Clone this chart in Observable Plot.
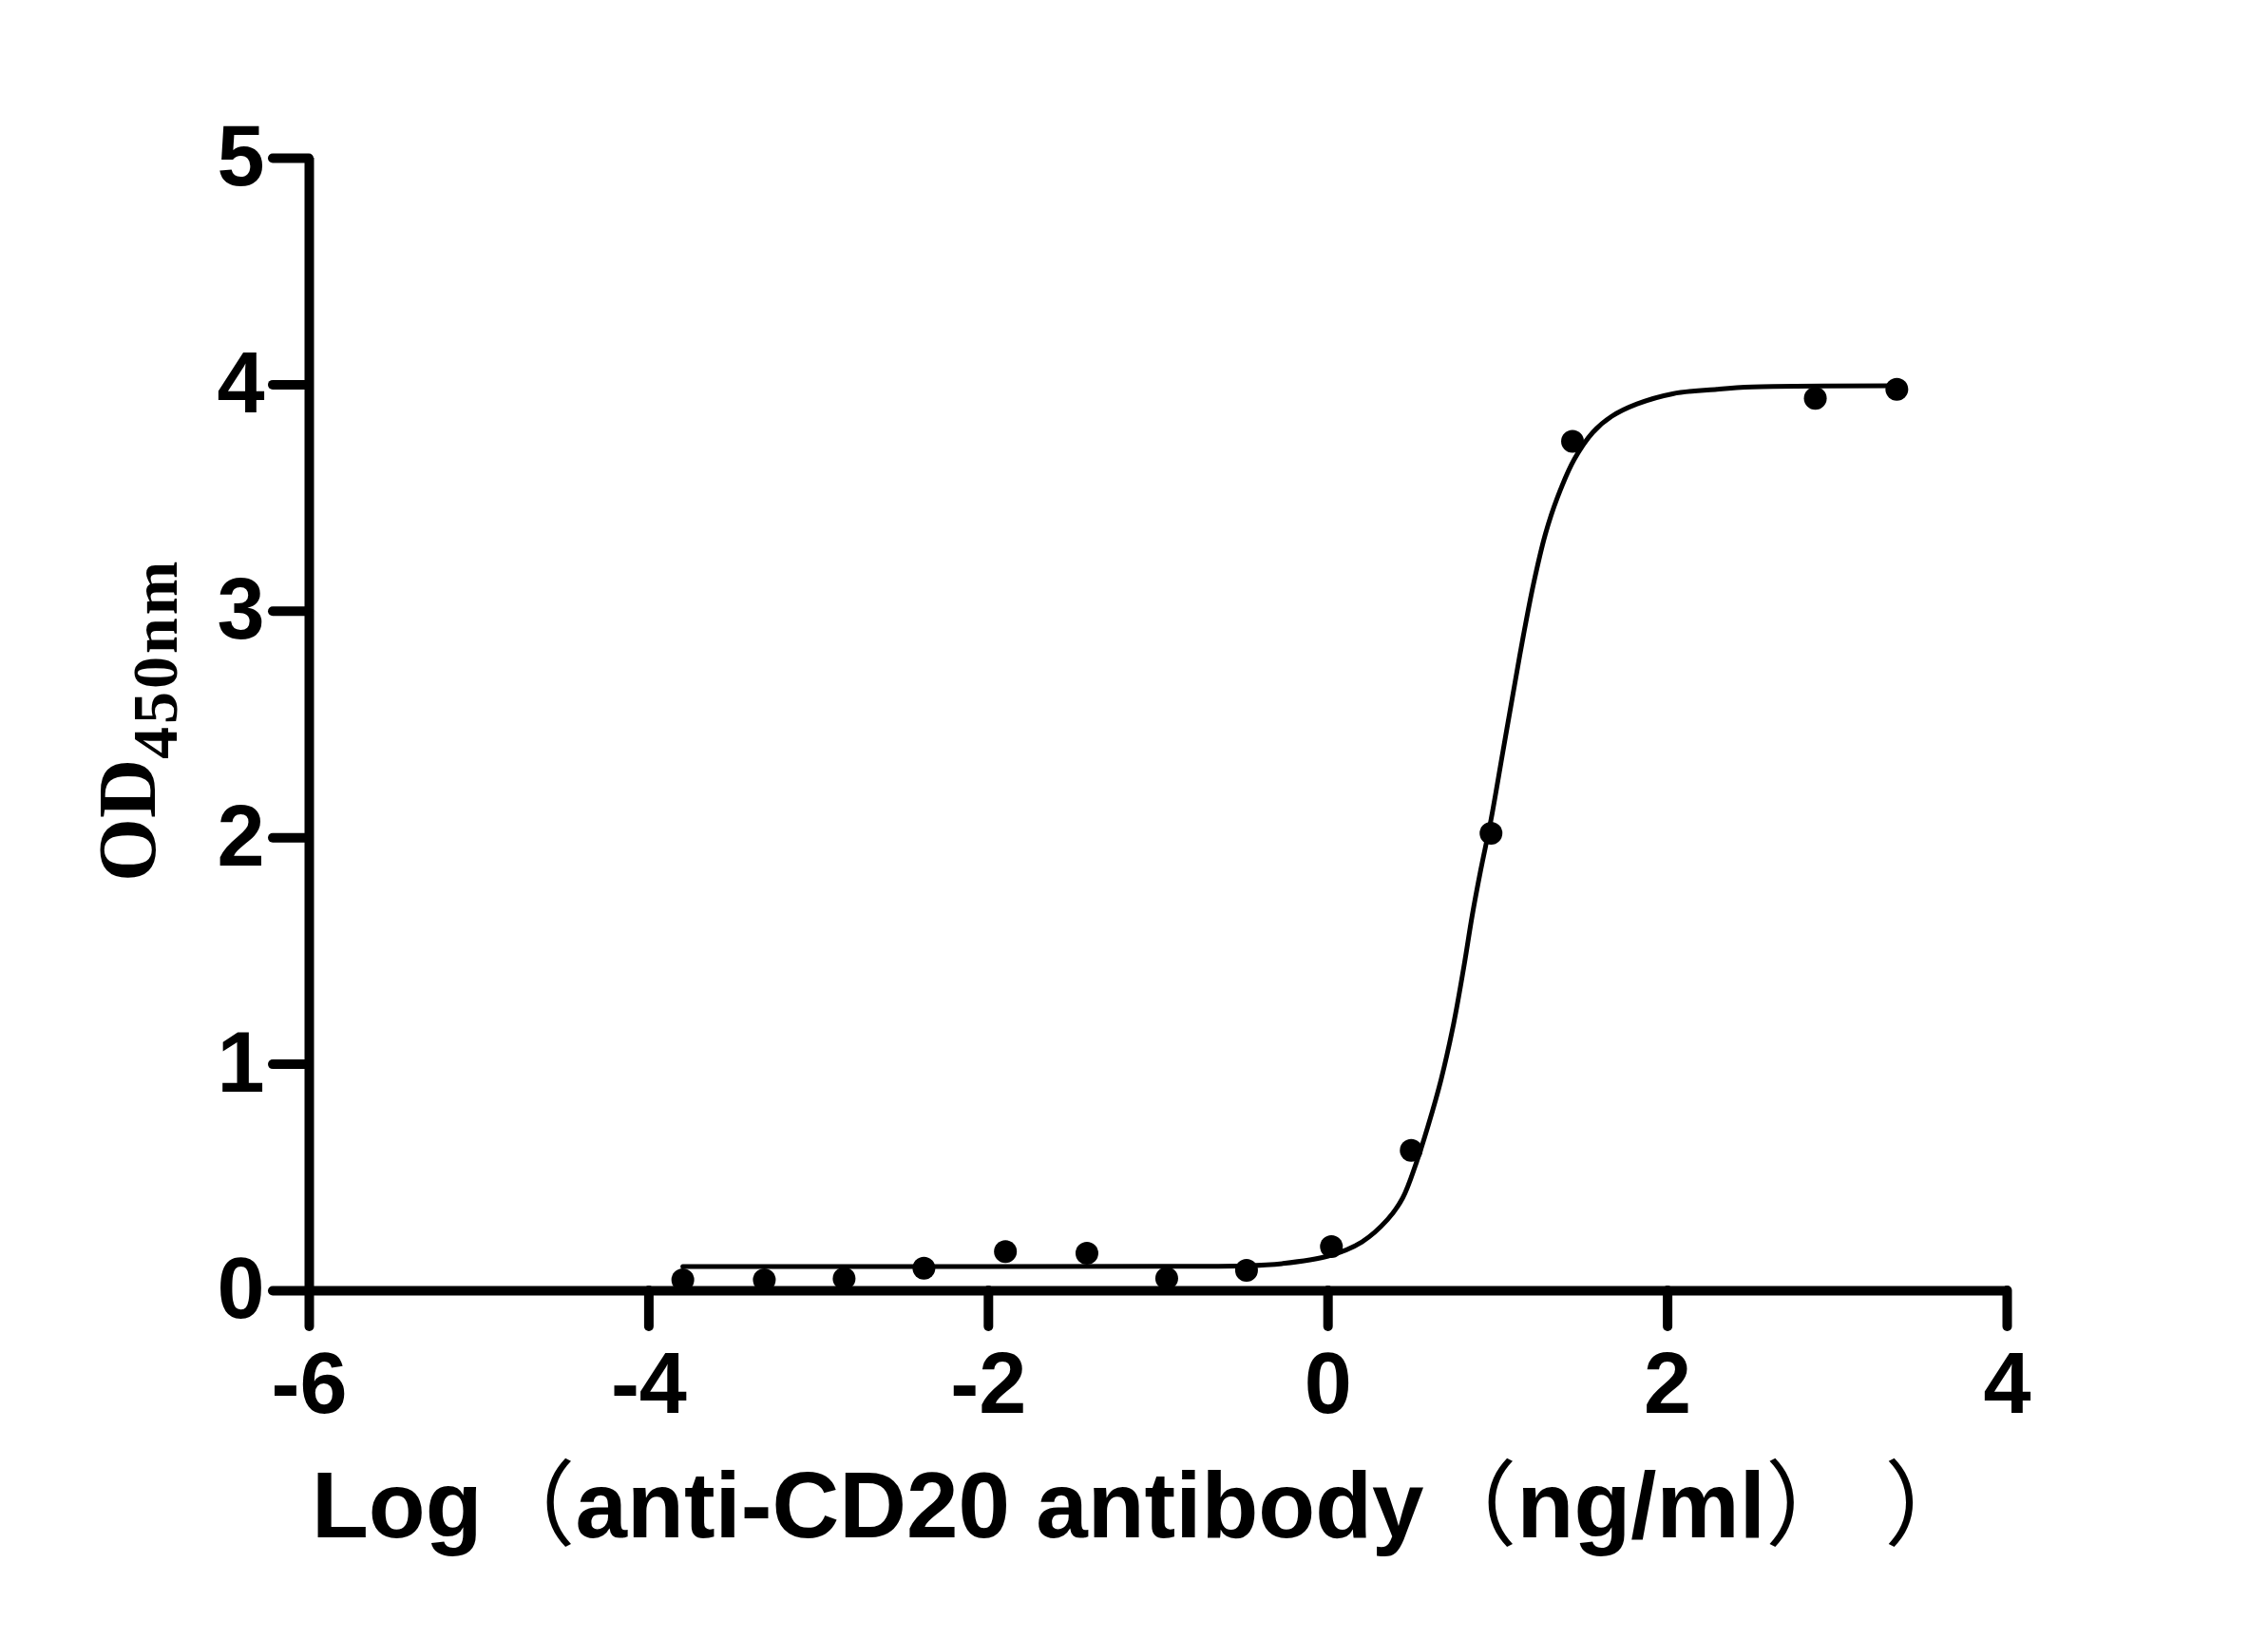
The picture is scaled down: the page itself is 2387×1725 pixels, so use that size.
<!DOCTYPE html>
<html>
<head>
<meta charset="utf-8">
<script src="https://cdn.jsdelivr.net/npm/d3@7"></script>
<script src="https://cdn.jsdelivr.net/npm/@observablehq/plot@0.6"></script>
<style>
  body { margin: 0; background: #fff; }
</style>
</head>
<body>
<div id="chart"></div>
<script>
// puntos medidos: log de la concentración (diluciones 1:3) y OD450
const logConc = [-3.80, -3.32, -2.85, -2.38, -1.90, -1.42, -0.95, -0.48, 0.02, 0.49, 0.96, 1.44, 2.87, 3.35]
const od450 = [0.048, 0.048, 0.054, 0.10, 0.173, 0.166, 0.055, 0.09, 0.195, 0.62, 2.02, 3.75, 3.94, 3.98]

// curva ajustada
const fitX = [-3.80, -2.0, -1.0, -0.5, -0.27, 0.0, 0.2, 0.35, 0.44, 0.52, 0.59, 0.665, 0.74, 0.8, 0.85, 0.9, 0.96, 1.03, 1.10, 1.15, 1.21, 1.28, 1.35, 1.45, 1.56, 1.67, 1.82, 2.03, 2.29, 2.5, 3.35]
const fitY = [0.107, 0.107, 0.108, 0.11, 0.12, 0.153, 0.216, 0.314, 0.41, 0.565, 0.73, 0.93, 1.18, 1.43, 1.66, 1.86, 2.08, 2.38, 2.68, 2.89, 3.12, 3.34, 3.50, 3.67, 3.79, 3.86, 3.915, 3.96, 3.98, 3.99, 3.995]

const xTicks = [-6, -4, -2, 0, 2, 4]
const yTicks = [0, 1, 2, 3, 4, 5]

const puntos = logConc.map((x, i) => ({x, y: od450[i]}))
const curva = fitX.map((x, i) => ({x, y: fitY[i]}))

const chart = Plot.plot({
  width: 2387,
  height: 1725,
  marginLeft: 325,
  marginRight: 275,
  marginTop: 166,
  marginBottom: 367,
  style: {
    fontFamily: '"Liberation Sans", Arial, sans-serif',
    fontWeight: 'bold',
    fontSize: '90px',
    color: '#000',
    background: '#fff',
  },
  x: {domain: [-6, 4]},
  y: {domain: [0, 5]},
  marks: [
    Plot.axisX({ticks: xTicks, tickSize: 38, tickPadding: 27, strokeWidth: 10, strokeLinecap: 'round',
      tickFormat: d => String(d), label: null, fontSize: 90, fontWeight: 'bold'}),
    Plot.axisY({ticks: yTicks, tickSize: 38, tickPadding: 9, strokeWidth: 10, strokeLinecap: 'round',
      tickFormat: d => String(d), label: null, fontSize: 90, fontWeight: 'bold'}),
    Plot.ruleY([0], {strokeWidth: 10}),
    Plot.ruleX([-6], {strokeWidth: 10}),
    Plot.line(curva, {x: 'x', y: 'y', curve: 'catmull-rom', strokeWidth: 5, stroke: 'black'}),
    Plot.dot(puntos, {x: 'x', y: 'y', r: 12, fill: 'black', stroke: 'none'}),
  ],
})

const svg = d3.select(chart)

// título eje X (paréntesis de ancho completo en trazo fino)
const partesX = [
  ['Log', 'bold'], ['（', 'normal'], ['anti-CD20 antibody', 'bold'], ['（', 'normal'],
  ['ng/ml', 'bold'], ['） ）', 'normal'],
]
const xt = svg.append('text')
  .attr('x', 328)
  .attr('y', 1618)
  .attr('text-anchor', 'start')
  .attr('font-family', '"Liberation Sans", Arial, "Noto Sans CJK SC", sans-serif')
  .attr('font-size', 98)
  .attr('fill', '#000')
partesX.forEach(([t, w]) => xt.append('tspan').attr('font-weight', w).text(t))

// título eje Y con subíndice
const yt = svg.append('text')
  .attr('transform', 'translate(163,928) rotate(-90)')
  .attr('text-anchor', 'start')
  .attr('font-family', '"Liberation Serif", "Times New Roman", serif')
  .attr('font-weight', 'bold')
  .attr('fill', '#000')
yt.append('tspan').attr('font-size', 86).text('OD')
yt.append('tspan').attr('font-size', 68).attr('dy', 23).attr('letter-spacing', 3).text('450nm')

d3.select('#chart').append(() => chart)
</script>
</body>
</html>
